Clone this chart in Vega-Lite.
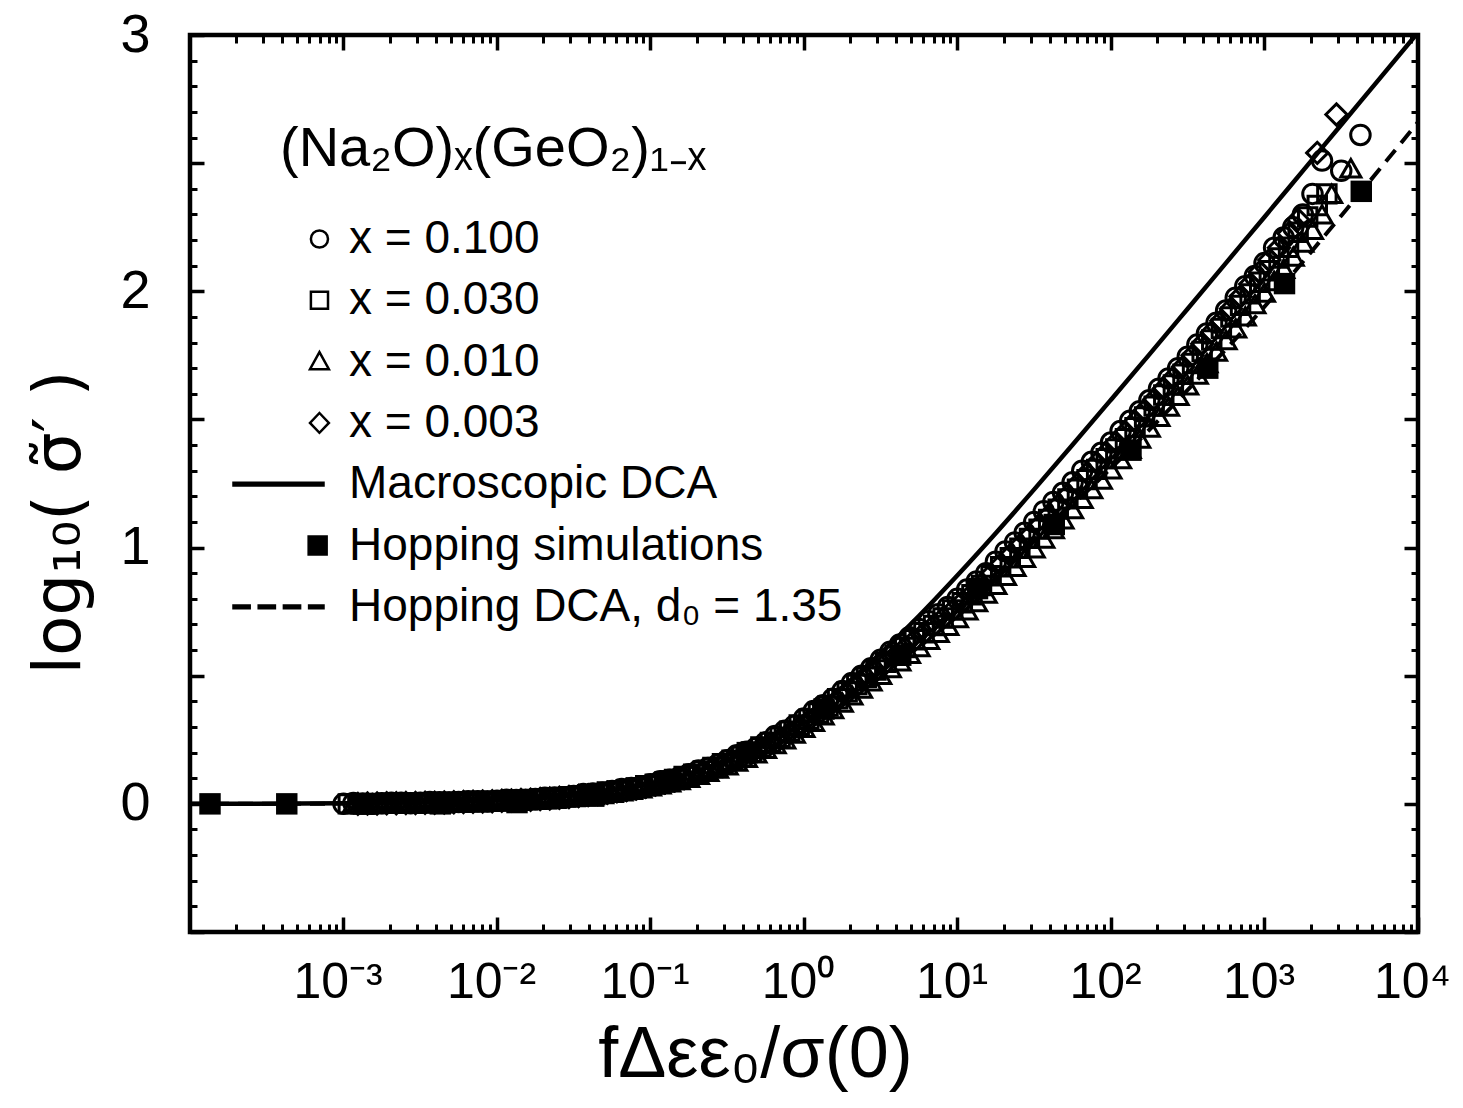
{
  "$schema": "https://vega.github.io/schema/vega-lite/v6.json",
  "autosize": {"type": "none"},
  "width": 1228,
  "height": 897,
  "padding": {"left": 190, "top": 35, "right": 45, "bottom": 176},
  "background": "white",
  "title": {
    "text": "(Na₂O)ₓ(GeO₂)₁₋ₓ",
    "anchor": "start",
    "frame": "group",
    "orient": "top",
    "offset": 0,
    "dx": 90,
    "dy": 214,
    "baseline": "alphabetic",
    "fontSize": 56,
    "fontWeight": "normal",
    "font": "Liberation Sans",
    "color": "black"
  },
  "datasets": {
    "macro": [
      {"x": 0.0001, "y": 0.0003}, {"x": 0.001, "y": 0.0022}, {"x": 0.00316, "y": 0.0054}, {"x": 0.01, "y": 0.0134},
      {"x": 0.0178, "y": 0.0211}, {"x": 0.0316, "y": 0.0329}, {"x": 0.0562, "y": 0.051}, {"x": 0.1, "y": 0.078},
      {"x": 0.178, "y": 0.117}, {"x": 0.316, "y": 0.1725}, {"x": 0.562, "y": 0.2465}, {"x": 1, "y": 0.341},
      {"x": 1.78, "y": 0.4557}, {"x": 3.16, "y": 0.588}, {"x": 5.62, "y": 0.734}, {"x": 10, "y": 0.892},
      {"x": 17.8, "y": 1.057}, {"x": 31.6, "y": 1.227}, {"x": 56.2, "y": 1.401}, {"x": 100, "y": 1.577},
      {"x": 178, "y": 1.754}, {"x": 316, "y": 1.932}, {"x": 562, "y": 2.111}, {"x": 1000, "y": 2.29},
      {"x": 1778, "y": 2.47}, {"x": 3162, "y": 2.65}, {"x": 5623, "y": 2.83}, {"x": 10000, "y": 3.01}
    ],
    "hopdca": [
      {"x": 0.0001, "y": 0}, {"x": 0.001, "y": 0.001}, {"x": 0.00316, "y": 0.003}, {"x": 0.01, "y": 0.008},
      {"x": 0.0316, "y": 0.026}, {"x": 0.1, "y": 0.072}, {"x": 0.316, "y": 0.165}, {"x": 1, "y": 0.315},
      {"x": 3.16, "y": 0.515}, {"x": 10, "y": 0.77}, {"x": 31.6, "y": 1.03}, {"x": 100, "y": 1.31},
      {"x": 316, "y": 1.615}, {"x": 1000, "y": 1.94}, {"x": 3162, "y": 2.295}, {"x": 10000, "y": 2.66}
    ],
    "hop": [
      {"x": 0.000135, "y": 0}, {"x": 0.000427, "y": 0}, {"x": 0.00135, "y": 0}, {"x": 0.00427, "y": 0},
      {"x": 0.0135, "y": 0.005}, {"x": 0.0427, "y": 0.03}, {"x": 0.135, "y": 0.09}, {"x": 0.427, "y": 0.2},
      {"x": 1.35, "y": 0.37}, {"x": 4.27, "y": 0.58}, {"x": 13.5, "y": 0.84}, {"x": 42.7, "y": 1.09},
      {"x": 135, "y": 1.38}, {"x": 427, "y": 1.7}, {"x": 1350, "y": 2.03}, {"x": 4270, "y": 2.39}
    ],
    "s100": [
      {"x": 0.001, "y": 0}, {"x": 0.001334, "y": 0.001}, {"x": 0.001778, "y": 0.002}, {"x": 0.002371, "y": 0.004},
      {"x": 0.003162, "y": 0.004}, {"x": 0.004217, "y": 0.006}, {"x": 0.005623, "y": 0.007}, {"x": 0.007499, "y": 0.01},
      {"x": 0.01, "y": 0.012}, {"x": 0.01334, "y": 0.015}, {"x": 0.01778, "y": 0.019}, {"x": 0.02371, "y": 0.025},
      {"x": 0.03162, "y": 0.031}, {"x": 0.04217, "y": 0.04}, {"x": 0.05623, "y": 0.05}, {"x": 0.07499, "y": 0.062},
      {"x": 0.1, "y": 0.077}, {"x": 0.1334, "y": 0.094}, {"x": 0.1778, "y": 0.116}, {"x": 0.2371, "y": 0.14},
      {"x": 0.3162, "y": 0.17}, {"x": 0.4217, "y": 0.203}, {"x": 0.5623, "y": 0.24}, {"x": 0.7499, "y": 0.285},
      {"x": 1, "y": 0.333}, {"x": 1.334, "y": 0.385}, {"x": 1.778, "y": 0.44}, {"x": 2.371, "y": 0.5},
      {"x": 3.162, "y": 0.562}, {"x": 4.217, "y": 0.622}, {"x": 5.623, "y": 0.682}, {"x": 7.499, "y": 0.74},
      {"x": 10, "y": 0.8}, {"x": 13.34, "y": 0.868}, {"x": 17.78, "y": 0.945}, {"x": 23.71, "y": 1.02},
      {"x": 31.62, "y": 1.1}, {"x": 42.17, "y": 1.178}, {"x": 56.23, "y": 1.255}, {"x": 74.99, "y": 1.335},
      {"x": 100, "y": 1.41}, {"x": 133.4, "y": 1.495}, {"x": 177.8, "y": 1.575}, {"x": 237.1, "y": 1.66},
      {"x": 316.2, "y": 1.745}, {"x": 421.7, "y": 1.835}, {"x": 562.3, "y": 1.925}, {"x": 749.9, "y": 2.02},
      {"x": 1000, "y": 2.11}, {"x": 1334, "y": 2.21}, {"x": 1778, "y": 2.3}, {"x": 2371, "y": 2.51},
      {"x": 3162, "y": 2.47}, {"x": 4217, "y": 2.61},
      {"x": 0.00116, "y": 0.003}, {"x": 0.00154, "y": 0}, {"x": 0.00205, "y": 0.004}, {"x": 0.00274, "y": 0.002},
      {"x": 0.00365, "y": 0.007}, {"x": 0.00487, "y": 0.005}, {"x": 0.00649, "y": 0.01}, {"x": 0.00866, "y": 0.009},
      {"x": 0.01155, "y": 0.016}, {"x": 0.0154, "y": 0.015}, {"x": 0.0205, "y": 0.024}, {"x": 0.0274, "y": 0.026},
      {"x": 0.0365, "y": 0.038}, {"x": 0.0487, "y": 0.043}, {"x": 0.0649, "y": 0.058}, {"x": 0.0866, "y": 0.068},
      {"x": 0.1155, "y": 0.088}, {"x": 0.154, "y": 0.103}, {"x": 0.2054, "y": 0.13}, {"x": 0.2738, "y": 0.153},
      {"x": 0.3652, "y": 0.19}, {"x": 0.487, "y": 0.218}, {"x": 0.6494, "y": 0.265}, {"x": 0.866, "y": 0.305},
      {"x": 1.155, "y": 0.362}, {"x": 1.54, "y": 0.41}, {"x": 2.054, "y": 0.472}, {"x": 2.738, "y": 0.529},
      {"x": 3.652, "y": 0.594}, {"x": 4.87, "y": 0.65}, {"x": 6.494, "y": 0.713}, {"x": 8.66, "y": 0.768},
      {"x": 11.55, "y": 0.836}, {"x": 15.4, "y": 0.9}, {"x": 20.54, "y": 0.985}, {"x": 27.38, "y": 1.058},
      {"x": 36.52, "y": 1.142}, {"x": 48.7, "y": 1.214}, {"x": 64.94, "y": 1.3}, {"x": 86.6, "y": 1.37},
      {"x": 115.5, "y": 1.455}, {"x": 154, "y": 1.532}, {"x": 205.4, "y": 1.62}, {"x": 273.8, "y": 1.7},
      {"x": 365.2, "y": 1.792}, {"x": 487, "y": 1.877}, {"x": 649.4, "y": 1.975}, {"x": 866, "y": 2.06},
      {"x": 1155, "y": 2.17}, {"x": 1540, "y": 2.25}, {"x": 2054, "y": 2.38}
    ],
    "s030": [
      {"x": 0.001075, "y": 0}, {"x": 0.001434, "y": 0}, {"x": 0.001911, "y": 0.002}, {"x": 0.002549, "y": 0.003},
      {"x": 0.003399, "y": 0.004}, {"x": 0.004533, "y": 0.005}, {"x": 0.006045, "y": 0.007}, {"x": 0.008061, "y": 0.009},
      {"x": 0.01075, "y": 0.012}, {"x": 0.01434, "y": 0.014}, {"x": 0.01911, "y": 0.019}, {"x": 0.02549, "y": 0.024},
      {"x": 0.03399, "y": 0.031}, {"x": 0.04533, "y": 0.039}, {"x": 0.06045, "y": 0.05}, {"x": 0.08061, "y": 0.062},
      {"x": 0.1075, "y": 0.077}, {"x": 0.1434, "y": 0.095}, {"x": 0.1911, "y": 0.116}, {"x": 0.2549, "y": 0.142},
      {"x": 0.3399, "y": 0.17}, {"x": 0.4533, "y": 0.202}, {"x": 0.6045, "y": 0.24}, {"x": 0.8061, "y": 0.283},
      {"x": 1.075, "y": 0.33}, {"x": 1.434, "y": 0.382}, {"x": 1.911, "y": 0.437}, {"x": 2.549, "y": 0.494},
      {"x": 3.399, "y": 0.552}, {"x": 4.533, "y": 0.61}, {"x": 6.045, "y": 0.668}, {"x": 8.061, "y": 0.725},
      {"x": 10.75, "y": 0.785}, {"x": 14.34, "y": 0.852}, {"x": 19.11, "y": 0.925}, {"x": 25.49, "y": 0.997},
      {"x": 33.99, "y": 1.072}, {"x": 45.33, "y": 1.15}, {"x": 60.45, "y": 1.228}, {"x": 80.61, "y": 1.305},
      {"x": 107.5, "y": 1.385}, {"x": 143.4, "y": 1.468}, {"x": 191.1, "y": 1.552}, {"x": 254.9, "y": 1.634},
      {"x": 339.9, "y": 1.718}, {"x": 453.3, "y": 1.81}, {"x": 604.5, "y": 1.9}, {"x": 806.1, "y": 1.99},
      {"x": 1075, "y": 2.08}, {"x": 1434, "y": 2.172}, {"x": 1911, "y": 2.29}, {"x": 2549, "y": 2.38},
      {"x": 0.00124, "y": 0.001}, {"x": 0.00166, "y": 0.001}, {"x": 0.00221, "y": 0.003}, {"x": 0.00294, "y": 0.002},
      {"x": 0.00393, "y": 0.005}, {"x": 0.00524, "y": 0.006}, {"x": 0.00698, "y": 0.009}, {"x": 0.00931, "y": 0.01},
      {"x": 0.01242, "y": 0.014}, {"x": 0.01656, "y": 0.017}, {"x": 0.02207, "y": 0.021}, {"x": 0.02944, "y": 0.028},
      {"x": 0.03926, "y": 0.034}, {"x": 0.05236, "y": 0.046}, {"x": 0.06982, "y": 0.055}, {"x": 0.0931, "y": 0.071},
      {"x": 0.1242, "y": 0.085}, {"x": 0.1656, "y": 0.107}, {"x": 0.2207, "y": 0.128}, {"x": 0.2944, "y": 0.157},
      {"x": 0.3926, "y": 0.185}, {"x": 0.5236, "y": 0.222}, {"x": 0.6982, "y": 0.26}, {"x": 0.931, "y": 0.308},
      {"x": 1.242, "y": 0.355}, {"x": 1.656, "y": 0.41}, {"x": 2.207, "y": 0.466}, {"x": 2.944, "y": 0.522},
      {"x": 3.926, "y": 0.58}, {"x": 5.236, "y": 0.64}, {"x": 6.982, "y": 0.696}, {"x": 9.31, "y": 0.757},
      {"x": 12.42, "y": 0.816}, {"x": 16.56, "y": 0.89}, {"x": 22.07, "y": 0.96}, {"x": 29.44, "y": 1.036},
      {"x": 39.26, "y": 1.11}, {"x": 52.36, "y": 1.19}, {"x": 69.82, "y": 1.265}, {"x": 93.1, "y": 1.347},
      {"x": 124.2, "y": 1.425}, {"x": 165.6, "y": 1.51}, {"x": 220.7, "y": 1.595}, {"x": 294.4, "y": 1.676},
      {"x": 392.6, "y": 1.765}, {"x": 523.6, "y": 1.855}, {"x": 698.2, "y": 1.945}, {"x": 931, "y": 2.035},
      {"x": 1242, "y": 2.13}, {"x": 1656, "y": 2.23}, {"x": 2207, "y": 2.335}
    ],
    "s010": [
      {"x": 0.001155, "y": 0}, {"x": 0.00154, "y": 0}, {"x": 0.002054, "y": 0.001}, {"x": 0.002738, "y": 0.002},
      {"x": 0.003652, "y": 0.003}, {"x": 0.00487, "y": 0.005}, {"x": 0.006494, "y": 0.006}, {"x": 0.00866, "y": 0.008},
      {"x": 0.01155, "y": 0.011}, {"x": 0.0154, "y": 0.014}, {"x": 0.02054, "y": 0.018}, {"x": 0.02738, "y": 0.024},
      {"x": 0.03652, "y": 0.03}, {"x": 0.0487, "y": 0.038}, {"x": 0.06494, "y": 0.049}, {"x": 0.0866, "y": 0.061},
      {"x": 0.1155, "y": 0.076}, {"x": 0.154, "y": 0.093}, {"x": 0.2054, "y": 0.113}, {"x": 0.2738, "y": 0.138},
      {"x": 0.3652, "y": 0.165}, {"x": 0.487, "y": 0.197}, {"x": 0.6494, "y": 0.233}, {"x": 0.866, "y": 0.274},
      {"x": 1.155, "y": 0.32}, {"x": 1.54, "y": 0.37}, {"x": 2.054, "y": 0.423}, {"x": 2.738, "y": 0.478},
      {"x": 3.652, "y": 0.53}, {"x": 4.87, "y": 0.585}, {"x": 6.494, "y": 0.64}, {"x": 8.66, "y": 0.695},
      {"x": 11.55, "y": 0.755}, {"x": 15.4, "y": 0.82}, {"x": 20.54, "y": 0.89}, {"x": 27.38, "y": 0.96},
      {"x": 36.52, "y": 1.035}, {"x": 48.7, "y": 1.11}, {"x": 64.94, "y": 1.19}, {"x": 86.6, "y": 1.265},
      {"x": 115.5, "y": 1.345}, {"x": 154, "y": 1.425}, {"x": 205.4, "y": 1.51}, {"x": 273.8, "y": 1.592},
      {"x": 365.2, "y": 1.675}, {"x": 487, "y": 1.765}, {"x": 649.4, "y": 1.855}, {"x": 866, "y": 1.95},
      {"x": 1155, "y": 2.04}, {"x": 1540, "y": 2.135}, {"x": 2054, "y": 2.24}, {"x": 2738, "y": 2.38},
      {"x": 3652, "y": 2.48},
      {"x": 0.001334, "y": -0.002}, {"x": 0.001778, "y": 0}, {"x": 0.002371, "y": 0.002}, {"x": 0.003162, "y": 0.002},
      {"x": 0.004217, "y": 0.004}, {"x": 0.005623, "y": 0.005}, {"x": 0.007499, "y": 0.007}, {"x": 0.01, "y": 0.009},
      {"x": 0.01334, "y": 0.012}, {"x": 0.01778, "y": 0.016}, {"x": 0.02371, "y": 0.02}, {"x": 0.03162, "y": 0.026},
      {"x": 0.04217, "y": 0.034}, {"x": 0.05623, "y": 0.043}, {"x": 0.07499, "y": 0.055}, {"x": 0.1, "y": 0.068},
      {"x": 0.1334, "y": 0.084}, {"x": 0.1778, "y": 0.102}, {"x": 0.2371, "y": 0.125}, {"x": 0.3162, "y": 0.15},
      {"x": 0.4217, "y": 0.18}, {"x": 0.5623, "y": 0.215}, {"x": 0.7499, "y": 0.252}, {"x": 1, "y": 0.297},
      {"x": 1.334, "y": 0.345}, {"x": 1.778, "y": 0.395}, {"x": 2.371, "y": 0.45}, {"x": 3.162, "y": 0.503},
      {"x": 4.217, "y": 0.556}, {"x": 5.623, "y": 0.612}, {"x": 7.499, "y": 0.667}, {"x": 10, "y": 0.725},
      {"x": 13.34, "y": 0.787}, {"x": 17.78, "y": 0.855}, {"x": 23.71, "y": 0.925}, {"x": 31.62, "y": 0.997},
      {"x": 42.17, "y": 1.072}, {"x": 56.23, "y": 1.15}, {"x": 74.99, "y": 1.228}, {"x": 100, "y": 1.305},
      {"x": 133.4, "y": 1.385}, {"x": 177.8, "y": 1.468}, {"x": 237.1, "y": 1.55}, {"x": 316.2, "y": 1.633},
      {"x": 421.7, "y": 1.72}, {"x": 562.3, "y": 1.81}, {"x": 749.9, "y": 1.902}, {"x": 1000, "y": 1.995},
      {"x": 1334, "y": 2.088}, {"x": 1778, "y": 2.19}, {"x": 2371, "y": 2.3}
    ],
    "s003": [
      {"x": 0.001241, "y": 0}, {"x": 0.001655, "y": 0.001}, {"x": 0.002207, "y": 0.002}, {"x": 0.002943, "y": 0.003},
      {"x": 0.003925, "y": 0.004}, {"x": 0.005234, "y": 0.006}, {"x": 0.00698, "y": 0.008}, {"x": 0.009309, "y": 0.01},
      {"x": 0.01241, "y": 0.013}, {"x": 0.01655, "y": 0.016}, {"x": 0.02207, "y": 0.021}, {"x": 0.02943, "y": 0.027},
      {"x": 0.03925, "y": 0.034}, {"x": 0.05234, "y": 0.043}, {"x": 0.0698, "y": 0.054}, {"x": 0.09309, "y": 0.067},
      {"x": 0.1241, "y": 0.083}, {"x": 0.1655, "y": 0.101}, {"x": 0.2207, "y": 0.123}, {"x": 0.2943, "y": 0.15},
      {"x": 0.3925, "y": 0.18}, {"x": 0.5234, "y": 0.215}, {"x": 0.698, "y": 0.254}, {"x": 0.9309, "y": 0.3},
      {"x": 1.241, "y": 0.35}, {"x": 1.655, "y": 0.403}, {"x": 2.207, "y": 0.46}, {"x": 2.943, "y": 0.518},
      {"x": 3.925, "y": 0.578}, {"x": 5.234, "y": 0.637}, {"x": 6.98, "y": 0.695}, {"x": 9.309, "y": 0.755},
      {"x": 12.41, "y": 0.82}, {"x": 16.55, "y": 0.895}, {"x": 22.07, "y": 0.97}, {"x": 29.43, "y": 1.045},
      {"x": 39.25, "y": 1.125}, {"x": 52.34, "y": 1.205}, {"x": 69.8, "y": 1.29}, {"x": 93.09, "y": 1.37},
      {"x": 124.1, "y": 1.45}, {"x": 165.5, "y": 1.535}, {"x": 220.7, "y": 1.62}, {"x": 294.3, "y": 1.705},
      {"x": 392.5, "y": 1.795}, {"x": 523.4, "y": 1.885}, {"x": 698, "y": 1.98}, {"x": 930.9, "y": 2.075},
      {"x": 1241, "y": 2.17}, {"x": 1655, "y": 2.28}, {"x": 2207, "y": 2.54}, {"x": 2943, "y": 2.69},
      {"x": 0.001433, "y": 0.001}, {"x": 0.001911, "y": 0.002}, {"x": 0.002549, "y": 0.003}, {"x": 0.003399, "y": 0.004},
      {"x": 0.004533, "y": 0.005}, {"x": 0.006045, "y": 0.007}, {"x": 0.008062, "y": 0.009}, {"x": 0.01075, "y": 0.012},
      {"x": 0.01433, "y": 0.015}, {"x": 0.01911, "y": 0.019}, {"x": 0.02549, "y": 0.024}, {"x": 0.03399, "y": 0.031},
      {"x": 0.04533, "y": 0.038}, {"x": 0.06045, "y": 0.049}, {"x": 0.08062, "y": 0.06}, {"x": 0.1075, "y": 0.075},
      {"x": 0.1433, "y": 0.092}, {"x": 0.1911, "y": 0.112}, {"x": 0.2549, "y": 0.136}, {"x": 0.3399, "y": 0.165},
      {"x": 0.4533, "y": 0.197}, {"x": 0.6045, "y": 0.235}, {"x": 0.8062, "y": 0.277}, {"x": 1.075, "y": 0.325},
      {"x": 1.433, "y": 0.377}, {"x": 1.911, "y": 0.432}, {"x": 2.549, "y": 0.49}, {"x": 3.399, "y": 0.548},
      {"x": 4.533, "y": 0.608}, {"x": 6.045, "y": 0.666}, {"x": 8.062, "y": 0.725}, {"x": 10.75, "y": 0.788},
      {"x": 14.33, "y": 0.858}, {"x": 19.11, "y": 0.933}, {"x": 25.49, "y": 1.008}, {"x": 33.99, "y": 1.085},
      {"x": 45.33, "y": 1.165}, {"x": 60.45, "y": 1.248}, {"x": 80.62, "y": 1.33}, {"x": 107.5, "y": 1.41},
      {"x": 143.3, "y": 1.492}, {"x": 191.1, "y": 1.578}, {"x": 254.9, "y": 1.662}, {"x": 339.9, "y": 1.75},
      {"x": 453.3, "y": 1.84}, {"x": 604.5, "y": 1.932}, {"x": 806.2, "y": 2.028}, {"x": 1075, "y": 2.122},
      {"x": 1433, "y": 2.225}
    ],
    "legend": [
      {"label": "x = 0.100"}, {"label": "x = 0.030"}, {"label": "x = 0.010"}, {"label": "x = 0.003"},
      {"label": "Macroscopic DCA"}, {"label": "Hopping simulations"}, {"label": "Hopping DCA, d₀ = 1.35"}
    ]
  },
  "layer": [
    {
      "data": {"name": "macro"},
      "mark": {"type": "line", "color": "black", "strokeWidth": 4.5, "interpolate": "monotone", "clip": true},
      "encoding": {
        "x": {"field": "x", "type": "quantitative", "scale": {"type": "log", "domain": [0.0001, 10000], "nice": false},
          "axis": {"orient": "bottom", "values": [0.001, 0.01, 0.1, 1, 10, 100, 1000, 10000],
            "labelExpr": "['10⁻³','10⁻²','10⁻¹','10⁰','10¹','10²','10³','10⁴'][round(log(datum.value)/LN10)+3]",
            "tickSize": -15, "tickWidth": 3.5, "labelPadding": 40, "labelFontSize": 50, "labelOffset": -6,
            "labelFlush": false, "labelOverlap": false, "labelBound": false,
            "title": "fΔεε₀/σ(0)", "titleFontSize": 72, "titlePadding": 12, "titleX": 565, "domain": false, "grid": false}},
        "y": {"field": "y", "type": "quantitative", "scale": {"domain": [-0.5, 3], "nice": false, "zero": false},
          "axis": {"orient": "left", "values": [-0.5, 0, 0.5, 1, 1.5, 2, 2.5, 3],
            "labelExpr": "datum.value % 1 == 0 ? format(datum.value, 'd') : ''",
            "tickSize": -14, "tickWidth": 3.5, "labelPadding": 54, "labelFontSize": 54,
            "labelFlush": false, "labelOverlap": false, "labelBound": false,
            "title": "log₁₀(    σ̃′    )", "titleFont": "DejaVu Sans", "titleFontSize": 66, "titlePadding": 26, "titleY": 487,
            "domain": false, "grid": false}}
      }
    },
    {
      "data": {"name": "hopdca"},
      "mark": {"type": "line", "color": "black", "strokeWidth": 4, "strokeDash": [15, 9], "interpolate": "monotone", "clip": true},
      "encoding": {
        "x": {"field": "x", "type": "quantitative", "scale": {"type": "log", "domain": [0.0001, 10000], "nice": false},
          "axis": {"orient": "top", "values": [0.001, 0.01, 0.1, 1, 10, 100, 1000], "labels": false,
            "tickSize": -15, "tickWidth": 3.5, "title": null, "domain": false, "grid": false}},
        "y": {"field": "y", "type": "quantitative", "scale": {"domain": [-0.5, 3], "nice": false, "zero": false},
          "axis": {"orient": "right", "values": [-0.5, 0, 0.5, 1, 1.5, 2, 2.5], "labels": false,
            "tickSize": -14, "tickWidth": 3.5, "title": null, "domain": false, "grid": false}}
      }
    },
    {
      "data": {"name": "s100"},
      "mark": {"type": "point", "shape": "circle", "filled": false, "color": "black", "strokeWidth": 3, "size": 380, "opacity": 1},
      "encoding": {
        "x": {"field": "x", "type": "quantitative", "scale": {"type": "log", "domain": [0.0001, 10000], "nice": false},
          "axis": {"orient": "bottom", "labels": false, "tickSize": -8, "tickWidth": 3, "title": null, "domain": false, "grid": false,
            "values": [0.0002, 0.0003, 0.0004, 0.0005, 0.0006, 0.0007, 0.0008, 0.0009,
              0.002, 0.003, 0.004, 0.005, 0.006, 0.007, 0.008, 0.009,
              0.02, 0.03, 0.04, 0.05, 0.06, 0.07, 0.08, 0.09,
              0.2, 0.3, 0.4, 0.5, 0.6, 0.7, 0.8, 0.9,
              2, 3, 4, 5, 6, 7, 8, 9, 20, 30, 40, 50, 60, 70, 80, 90,
              200, 300, 400, 500, 600, 700, 800, 900, 2000, 3000, 4000, 5000, 6000, 7000, 8000, 9000]}},
        "y": {"field": "y", "type": "quantitative", "scale": {"domain": [-0.5, 3], "nice": false, "zero": false},
          "axis": {"orient": "left", "labels": false, "tickSize": -7, "tickWidth": 3, "title": null, "domain": false, "grid": false,
            "values": [-0.4, -0.3, -0.2, -0.1, 0.1, 0.2, 0.3, 0.4, 0.6, 0.7, 0.8, 0.9, 1.1, 1.2, 1.3, 1.4, 1.6, 1.7, 1.8, 1.9,
              2.1, 2.2, 2.3, 2.4, 2.6, 2.7, 2.8, 2.9]}}
      }
    },
    {
      "data": {"name": "s030"},
      "mark": {"type": "point", "shape": "square", "filled": false, "color": "black", "strokeWidth": 3, "size": 340, "opacity": 1},
      "encoding": {
        "x": {"field": "x", "type": "quantitative", "scale": {"type": "log", "domain": [0.0001, 10000], "nice": false},
          "axis": {"orient": "top", "labels": false, "tickSize": -8, "tickWidth": 3, "title": null, "domain": false, "grid": false,
            "values": [0.0002, 0.0003, 0.0004, 0.0005, 0.0006, 0.0007, 0.0008, 0.0009,
              0.002, 0.003, 0.004, 0.005, 0.006, 0.007, 0.008, 0.009,
              0.02, 0.03, 0.04, 0.05, 0.06, 0.07, 0.08, 0.09,
              0.2, 0.3, 0.4, 0.5, 0.6, 0.7, 0.8, 0.9,
              2, 3, 4, 5, 6, 7, 8, 9, 20, 30, 40, 50, 60, 70, 80, 90,
              200, 300, 400, 500, 600, 700, 800, 900, 2000, 3000, 4000, 5000, 6000, 7000, 8000, 9000]}},
        "y": {"field": "y", "type": "quantitative", "scale": {"domain": [-0.5, 3], "nice": false, "zero": false},
          "axis": {"orient": "right", "labels": false, "tickSize": -7, "tickWidth": 3, "title": null, "domain": false, "grid": false,
            "values": [-0.4, -0.3, -0.2, -0.1, 0.1, 0.2, 0.3, 0.4, 0.6, 0.7, 0.8, 0.9, 1.1, 1.2, 1.3, 1.4, 1.6, 1.7, 1.8, 1.9,
              2.1, 2.2, 2.3, 2.4, 2.6, 2.7, 2.8, 2.9]}}
      }
    },
    {
      "data": {"name": "s010"},
      "mark": {"type": "point", "shape": "triangle-up", "filled": false, "color": "black", "strokeWidth": 3, "size": 400, "opacity": 1},
      "encoding": {
        "x": {"field": "x", "type": "quantitative", "scale": {"type": "log", "domain": [0.0001, 10000], "nice": false}, "axis": null},
        "y": {"field": "y", "type": "quantitative", "scale": {"domain": [-0.5, 3], "nice": false, "zero": false}, "axis": null}
      }
    },
    {
      "data": {"name": "s003"},
      "mark": {"type": "point", "shape": "diamond", "filled": false, "color": "black", "strokeWidth": 3, "size": 450, "opacity": 1},
      "encoding": {
        "x": {"field": "x", "type": "quantitative", "scale": {"type": "log", "domain": [0.0001, 10000], "nice": false}, "axis": null},
        "y": {"field": "y", "type": "quantitative", "scale": {"domain": [-0.5, 3], "nice": false, "zero": false}, "axis": null}
      }
    },
    {
      "data": {"name": "hop"},
      "mark": {"type": "point", "shape": "square", "filled": true, "color": "black", "size": 460, "opacity": 1},
      "encoding": {
        "x": {"field": "x", "type": "quantitative", "scale": {"type": "log", "domain": [0.0001, 10000], "nice": false}, "axis": null},
        "y": {"field": "y", "type": "quantitative", "scale": {"domain": [-0.5, 3], "nice": false, "zero": false}, "axis": null}
      }
    },
    {
      "data": {"name": "legend"},
      "mark": {"type": "point", "filled": false, "opacity": 0, "stroke": "black", "strokeWidth": 2.5, "size": 8100},
      "encoding": {
        "shape": {"field": "label", "type": "nominal",
          "scale": {"domain": ["x = 0.100", "x = 0.030", "x = 0.010", "x = 0.003", "Macroscopic DCA", "Hopping simulations", "Hopping DCA, d₀ = 1.35"],
            "range": [
              "M1.1,0A0.19,0.19,0,1,1,0.72,0A0.19,0.19,0,1,1,1.1,0Z",
              "M0.72,-0.19H1.1V0.19H0.72Z",
              "M0.91,-0.21L1.12,0.17L0.7,0.17Z",
              "M0.91,-0.22L1.12,0L0.91,0.22L0.7,0Z",
              "M-1,-0.03H1V0.03H-1Z",
              "M0.67,-0.2H1.07V0.2H0.67Z",
              "M-1,-0.03H-0.64V0.03H-1ZM-0.44,-0.03H-0.08V0.03H-0.44ZM0.12,-0.03H0.48V0.03H0.12ZM0.68,-0.03H1V0.03H0.68Z"
            ]},
          "legend": {"orient": "none", "legendX": 42, "legendY": 179, "title": null, "direction": "vertical",
            "labelFontSize": 46, "labelFont": "Liberation Sans", "labelColor": "black", "labelLimit": 1000,
            "symbolSize": 8100, "symbolOpacity": 1, "symbolStrokeColor": "black", "symbolStrokeWidth": 2.5,
            "clipHeight": 50, "rowPadding": 11.3, "labelOffset": 24, "padding": 0}},
        "fill": {"field": "label", "type": "nominal",
          "scale": {"domain": ["x = 0.100", "x = 0.030", "x = 0.010", "x = 0.003", "Macroscopic DCA", "Hopping simulations", "Hopping DCA, d₀ = 1.35"],
            "range": ["transparent", "transparent", "transparent", "transparent", "black", "black", "black"]},
          "legend": {"orient": "none", "legendX": 42, "legendY": 179, "title": null, "direction": "vertical",
            "labelFontSize": 46, "labelFont": "Liberation Sans", "labelColor": "black", "labelLimit": 1000,
            "symbolSize": 8100, "symbolOpacity": 1, "symbolStrokeColor": "black", "symbolStrokeWidth": 2.5,
            "clipHeight": 50, "rowPadding": 11.3, "labelOffset": 24, "padding": 0}},
        "stroke": {"field": "label", "type": "nominal",
          "scale": {"domain": ["x = 0.100", "x = 0.030", "x = 0.010", "x = 0.003", "Macroscopic DCA", "Hopping simulations", "Hopping DCA, d₀ = 1.35"],
            "range": ["black", "black", "black", "black", "black", "black", "black"]},
          "legend": {"orient": "none", "legendX": 42, "legendY": 179, "title": null, "direction": "vertical",
            "labelFontSize": 46, "labelFont": "Liberation Sans", "labelColor": "black", "labelLimit": 1000,
            "symbolSize": 8100, "symbolOpacity": 1, "symbolStrokeColor": "black", "symbolStrokeWidth": 2.5,
            "clipHeight": 50, "rowPadding": 11.3, "labelOffset": 24, "padding": 0}}
      }
    }
  ],
  "resolve": {"axis": {"x": "independent", "y": "independent"}},
  "config": {
    "view": {"stroke": "black", "strokeWidth": 4.5},
    "font": "Liberation Sans",
    "axis": {"labelFont": "Liberation Sans", "titleFont": "Liberation Sans", "labelColor": "black", "titleColor": "black",
      "tickColor": "black", "titleFontWeight": "normal"}
  }
}
